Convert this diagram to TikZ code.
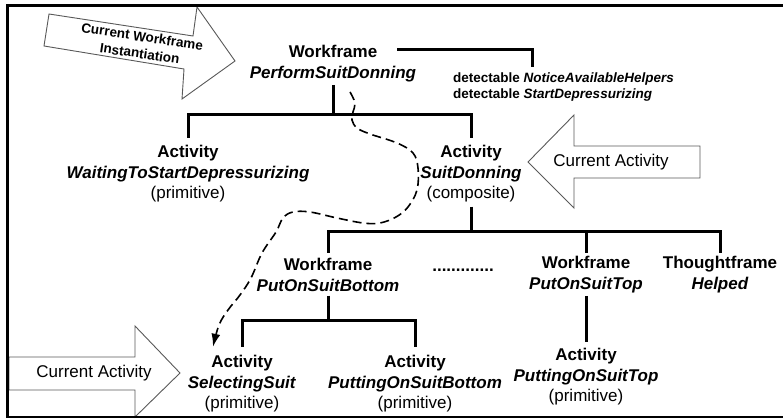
\documentclass[tikz,border=0pt]{standalone}
\usepackage{fontspec}
\setmainfont{Liberation Sans}
\usetikzlibrary{arrows.meta}
\begin{document}
\begin{tikzpicture}[x=1pt,y=-1pt,
  tree/.style={line width=3pt, line join=miter},
  lbl/.style={inner sep=0pt, align=center, font=\fontsize{17}{20.5}\selectfont},
  bigarrow/.style={draw=black!65, line width=0.9pt, fill=white, line join=miter},
  dashlink/.style={line width=1.6pt, dash pattern=on 9pt off 5pt, -{Latex[length=13pt,width=9pt]}}
]
\useasboundingbox (0,0) rectangle (783,419);

% big outline arrows
\draw[bigarrow] (44,46) -- (49,14) -- (193,36) -- (197,7) -- (235,61) -- (182,99) -- (184,69) -- cycle;
\node[rotate=-8.5, inner sep=0pt, align=center, font=\fontsize{13.5}{17}\selectfont\bfseries] (cwi) at (141,45) {Current Workframe\\Instantiation};

\draw[bigarrow] (528,162) -- (574,115) -- (574,146) -- (700,146) -- (700,178) -- (574,178) -- (574,208) -- cycle;
\node[inner sep=0pt, font=\fontsize{17}{20}\selectfont] (ca1) at (611,162) {Current Activity};

\draw[bigarrow] (9,357) -- (135,357) -- (135,326) -- (180,373) -- (135,417) -- (135,390) -- (9,390) -- cycle;
\node[inner sep=0pt, font=\fontsize{17}{20}\selectfont] (ca2) at (94,373) {Current Activity};

% frame
\draw[line width=2.5pt] (783,5.5) -- (7.5,5.5) -- (7.5,417) -- (783,417);

% tree nodes
\node[lbl] (pf) at (333,63.6) {\textbf{Workframe}\\\textbf{\textit{PerformSuitDonning}}};
\node[inner sep=0pt, anchor=west, align=left, font=\fontsize{13.5}{16}\selectfont\bfseries] (det) at (453,87.5)
  {detectable \textit{NoticeAvailableHelpers}\\detectable \textit{StartDepressurizing}};
\node[lbl] (wait) at (188,174) {\textbf{Activity}\\\textbf{\textit{WaitingToStartDepressurizing}}\\(primitive)};
\node[lbl] (sd) at (471,174) {\textbf{Activity}\\\textbf{\textit{SuitDonning}}\\(composite)};
\node[lbl] (pob) at (328,275) {\textbf{Workframe}\\\textbf{\textit{PutOnSuitBottom}}};
\node[lbl, anchor=base] (dots) at (463,272) {\textbf{.............}};
\node[lbl] (pot) at (586,274.6) {\textbf{Workframe}\\\textbf{\textit{PutOnSuitTop}}};
\node[lbl] (tf) at (720,274.6) {\textbf{Thoughtframe}\\\textbf{\textit{Helped}}};
\node[lbl] (sel) at (242,384) {\textbf{Activity}\\\textbf{\textit{SelectingSuit}}\\(primitive)};
\node[lbl] (pob2) at (415,384) {\textbf{Activity}\\\textbf{\textit{PuttingOnSuitBottom}}\\(primitive)};
\node[lbl] (pot2) at (586,377) {\textbf{Activity}\\\textbf{\textit{PuttingOnSuitTop}}\\(primitive)};

% bar levels
\coordinate (b1) at (0,115);
\coordinate (b2) at (0,232);
\coordinate (b3) at (0,320);
\coordinate (wfR) at (397,50);

% tree connectors
\draw[tree, shorten <=3pt, shorten >=7pt] (pf.south) -- (pf.south |- b1) -| (wait.north);
\draw[tree, shorten >=7pt] (pf.south |- b1) -| (sd.north);
\draw[tree, shorten >=6pt] (wfR) -| ([xshift=79pt]det.north west);
\draw[tree, shorten <=4pt, shorten >=5pt] (sd.south) -- (sd.south |- b2) -| (pob.north);
\draw[tree, shorten >=3pt] (sd.south |- b2) -| (pot.north);
\draw[tree, shorten >=3pt] (sd.south |- b2) -| (tf.north);
\draw[tree, shorten <=4pt, shorten >=8pt] (pob.south) -- (pob.south |- b3) -| (sel.north);
\draw[tree, shorten >=8pt] (pob.south |- b3) -| (pob2.north);
\draw[tree, shorten <=3pt, shorten >=6pt] (pot.south) -- (pot2.north);

% dashed link
\draw[dashlink] plot[smooth, tension=0.6] coordinates {
  ([xshift=17pt,yshift=-10pt]pf.south) (355,103) (353,112) (352,120) (357,128) (370,134)
  (397,143) (413,153) (418,168) (417,190) (408,207) (396,217) (380,223) (363,223)
  (337,218) (310,212) (293,212) (283,218) (276,232) (262,253) (251,278) (240,295)
  (228,310) (219,325) ([xshift=-29pt,yshift=8.6pt]sel.north)};
\end{tikzpicture}
\end{document}
